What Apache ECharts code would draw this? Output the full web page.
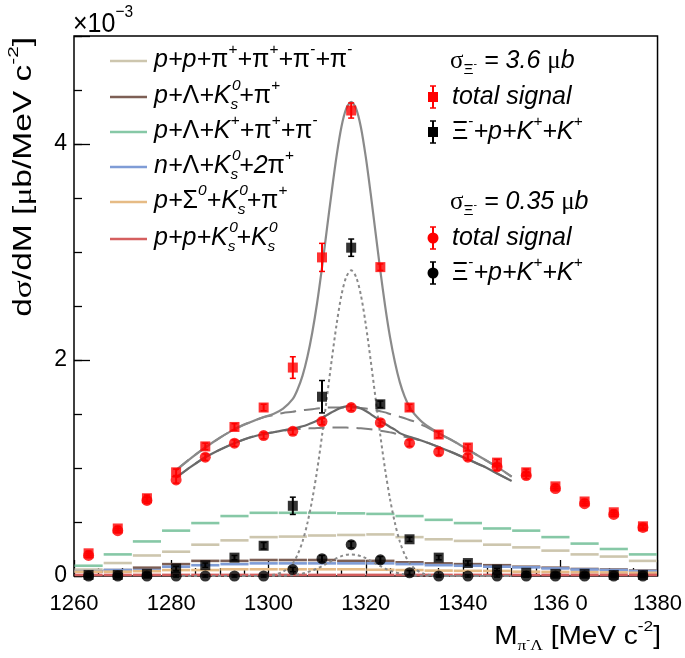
<!DOCTYPE html>
<html><head><meta charset="utf-8">
<script src="https://cdn.jsdelivr.net/npm/echarts@6/dist/echarts.min.js"></script>
<style>html,body{margin:0;padding:0;background:#fff}#c{width:685px;height:658px}</style>
</head><body><div id="c"></div>
<script>
// ---------------- data ----------------
const binCenter = [1263,1269,1275,1281,1287,1293,1299,1305,1311,1317,1323,1329,1335,1341,1347,1353,1359,1365,1371,1377];
const binLow    = [1260,1266,1272,1278,1284,1290,1296,1302,1308,1314,1320,1326,1332,1338,1344,1350,1356,1362,1368,1374];
const binHigh   = [1266,1272,1278,1284,1290,1296,1302,1308,1314,1320,1326,1332,1338,1344,1350,1356,1362,1368,1374,1380];

// total signal, sigma = 3.6 ub (red squares)
const redSq    = [0.21,0.44,0.72,0.96,1.20,1.38,1.56,1.93,2.95,4.31,2.86,1.56,1.31,1.19,1.05,0.96,0.83,0.69,0.59,0.46];
const redSqErr = [0.02,0.02,0.03,0.03,0.03,0.03,0.03,0.10,0.13,0.07,0.03,0.03,0.03,0.03,0.03,0.03,0.02,0.02,0.02,0.02];
// Xi- + p + K+ + K+, sigma = 3.6 ub (black squares)
const blkSq    = [0.01,0.01,0.02,0.07,0.10,0.17,0.28,0.65,1.66,3.04,1.59,0.34,0.17,0.12,0.06,0.03,0.02,0.02,0.01,0.01];
const blkSqErr = [0.01,0.01,0.01,0.02,0.02,0.02,0.03,0.08,0.15,0.08,0.03,0.02,0.02,0.02,0.01,0.01,0.01,0.01,0.01,0.01];
// total signal, sigma = 0.35 ub (red circles)
const redCi    = [0.19,0.42,0.70,0.89,1.10,1.23,1.30,1.34,1.43,1.56,1.42,1.23,1.15,1.10,1.01,0.93,0.81,0.67,0.57,0.45];
const redCiErr = [0.02,0.02,0.03,0.03,0.03,0.03,0.03,0.03,0.03,0.03,0.03,0.03,0.03,0.03,0.03,0.03,0.02,0.02,0.02,0.02];
// Xi- + p + K+ + K+, sigma = 0.35 ub (black circles)
const blkCi    = [0.00,0.00,0.00,0.00,0.00,0.00,0.00,0.06,0.16,0.29,0.15,0.03,0.00,0.00,0.00,0.00,0.00,0.00,0.00,0.00];
const blkCiErr = [0.01,0.01,0.01,0.01,0.01,0.01,0.01,0.02,0.03,0.03,0.03,0.02,0.01,0.01,0.01,0.01,0.01,0.01,0.01,0.01];

// background channels (histograms)
const hPPpipipipi = [0.06,0.12,0.19,0.225,0.29,0.33,0.36,0.365,0.375,0.38,0.385,0.36,0.34,0.325,0.29,0.265,0.235,0.20,0.18,0.14];
const hPLK0pi     = [0.04,0.055,0.077,0.11,0.14,0.14,0.148,0.148,0.148,0.14,0.14,0.127,0.117,0.11,0.10,0.086,0.077,0.065,0.06,0.05];
const hPLKpipi    = [0.095,0.20,0.32,0.42,0.49,0.555,0.585,0.585,0.585,0.58,0.575,0.555,0.52,0.49,0.44,0.42,0.36,0.30,0.25,0.20];
const hNLK02pi    = [0.045,0.055,0.055,0.086,0.10,0.11,0.117,0.117,0.117,0.117,0.117,0.11,0.10,0.095,0.086,0.08,0.07,0.06,0.055,0.046];
const hPSK0pi     = [0.04,0.04,0.045,0.055,0.055,0.062,0.062,0.062,0.062,0.062,0.058,0.055,0.05,0.048,0.047,0.04,0.038,0.035,0.033,0.03];
const hPPK0K0     = [0.01,0.01,0.01,0.01,0.01,0.01,0.01,0.01,0.01,0.01,0.01,0.01,0.01,0.01,0.01,0.01,0.01,0.01,0.01,0.01];

// fit curves
const curveX = [1281,1284,1287,1290,1293,1296,1299,1301,1303,1305,1306,1307,1308,1309,1310,1311,1312,1313,1314,1315,1316,1317,1318,1319,1320,1321,1322,1323,1324,1325,1326,1327,1328,1329,1330,1332,1335,1338,1341,1344,1347,1350];
const fitTot1 = [0.98,1.09,1.19,1.28,1.36,1.42,1.473,1.50,1.55,1.64,1.73,1.855,2.03,2.255,2.53,2.855,3.21,3.56,3.89,4.16,4.33,4.39,4.33,4.155,3.88,3.545,3.185,2.825,2.495,2.21,1.98,1.795,1.66,1.565,1.50,1.41,1.323,1.25,1.17,1.09,1.01,0.92];
const fitBg1  = [0.98,1.09,1.19,1.28,1.36,1.42,1.47,1.49,1.51,1.52,1.53,1.535,1.54,1.545,1.55,1.555,1.56,1.56,1.56,1.56,1.56,1.56,1.56,1.555,1.55,1.545,1.535,1.525,1.515,1.50,1.49,1.475,1.46,1.445,1.43,1.39,1.32,1.25,1.17,1.09,1.01,0.92];
const fitSig1 = [0,0,0,0,0,0,0.003,0.011,0.04,0.12,0.20,0.32,0.49,0.71,0.98,1.30,1.65,2.00,2.33,2.60,2.77,2.83,2.77,2.60,2.33,2.00,1.65,1.30,0.98,0.71,0.49,0.32,0.20,0.12,0.07,0.02,0.003,0,0,0,0,0];
const fitTot2 = [0.91,1.01,1.10,1.17,1.23,1.28,1.315,1.331,1.348,1.364,1.374,1.386,1.401,1.418,1.439,1.464,1.49,1.516,1.54,1.559,1.57,1.572,1.566,1.551,1.528,1.499,1.468,1.437,1.407,1.38,1.355,1.323,1.304,1.289,1.275,1.246,1.195,1.14,1.08,1.02,0.95,0.88];
const fitBg2  = [0.91,1.01,1.10,1.17,1.23,1.28,1.315,1.33,1.345,1.355,1.36,1.363,1.366,1.368,1.37,1.372,1.374,1.375,1.375,1.375,1.374,1.372,1.37,1.367,1.363,1.358,1.352,1.345,1.338,1.33,1.32,1.30,1.29,1.28,1.27,1.245,1.195,1.14,1.08,1.02,0.95,0.88];
const fitSig2 = [0,0,0,0,0,0,0,0.001,0.003,0.009,0.014,0.023,0.035,0.05,0.069,0.092,0.116,0.141,0.165,0.184,0.196,0.20,0.196,0.184,0.165,0.141,0.116,0.092,0.069,0.05,0.035,0.023,0.014,0.009,0.005,0.001,0,0,0,0,0,0];

const xTickValues = [1260,1280,1300,1320,1340,1360,1380];
const xTickLabels = ['1260','1280','1300','1320','1340','136 0','1380'];
const yTickValues = [0,2,4];
const yTickLabels = ['0','2','4'];

const legendLeft = ['p+p+π^{+}+π^{+}+π^{-}+π^{-}','p+Λ+K^{0}_{s}+π^{+}','p+Λ+K^{+}+π^{+}+π^{-}','n+Λ+K^{0}_{s}+2π^{+}','p+Σ^{0}+K^{0}_{s}+π^{+}','p+p+K^{0}_{s}+K^{0}_{s}'];
const sigmaLabels = ['3.6','0.35'];

// ---------------- styling ----------------
const FAM = '"Liberation Sans", Arial, Helvetica, sans-serif';
const GFAM = '"Liberation Serif", "DejaVu Serif", serif';
const SERIF_GREEK = 'σμ';
const histColors = ['#cdc6ae','#7d5f55','#86c8a6','#7f9cd6','#e6bb85','#d55f5f'];
const histData = [hPPpipipipi,hPLK0pi,hPLKpipi,hNLK02pi,hPSK0pi,hPPK0K0];

const mc = document.createElement('canvas').getContext('2d');
function fontOf(size,it,gr){ return (it?'italic ':'') + size.toFixed(2) + 'px ' + (gr?GFAM:FAM); }
function measure(t,size,it,gr){ mc.font = fontOf(size,it,gr); return mc.measureText(t).width; }
const isGreek = c => /[\u0370-\u03FF]/.test(c);
function P(t,sc,dy,it,extra){ return Object.assign({t,sc,dy,it,gr:false},extra||{}); }
// split a plain run into latin / greek pieces (greek upright like ROOT's Symbol font)
function runParts(s,sc,dy,it,extra){
  const out=[]; let cur='', curG=null;
  const push=()=>{ if(cur) out.push(Object.assign({t:cur,sc,dy,it:curG?false:it,gr:curG && SERIF_GREEK.includes(cur[0])},extra||{})); };
  for(const ch of s){
    const g=isGreek(ch);
    if(curG!==null && (g!==curG || g)){ push(); cur=''; }
    cur+=ch; curG=g;
  }
  push();
  return out;
}
function parseTex(s,it){
  const parts=[]; let i=0, buf='';
  const flush=()=>{ if(buf){ parts.push(...runParts(buf,1,0,it)); buf=''; } };
  while(i<s.length){
    const c=s[i];
    if((c==='^'||c==='_') && s[i+1]==='{'){
      flush();
      const j=s.indexOf('}',i); const t=s.slice(i+2,j); const k=j+1;
      if(c==='^' && s[k]==='_' && s[k+1]==='{'){
        const j2=s.indexOf('}',k); const t2=s.slice(k+2,j2);
        parts.push(...runParts(t,.62,-.42,it,{noAdv:true, dx:.06}));
        parts.push(...runParts(t2,.62,.34,it,{stackW:t}));
        i=j2+1; continue;
      }
      parts.push(...runParts(t,.62,c==='^'?-.42:.34,it));
      i=j+1; continue;
    }
    buf+=s[i]; i++;
  }
  flush(); return parts;
}
function layout(parts,fs){
  let x=0; const els=[];
  for(const p of parts){
    const size=fs*p.sc; const dx=(p.dx||0)*fs;
    els.push({x:x+dx,y:p.dy*fs,t:p.t,size,it:p.it,gr:p.gr});
    if(!p.noAdv){
      let w=measure(p.t,size,p.it,p.gr);
      if(p.stackW) w=Math.max(w, measure(p.stackW,size,p.it,p.gr)+dx);
      x+=w;
    }
  }
  return {els,width:x};
}
function textGroup(parts,fs,o){
  const L=layout(parts,fs);
  const off = o.align==='right' ? -L.width : 0;
  return {type:'group', x:o.x, y:o.y, rotation:o.rotation||0, scaleX:o.sx||1, scaleY:o.sy||1, silent:true,
    children:L.els.map(e=>({type:'text', x:e.x+off, y:e.y,
      style:{text:e.t, font:fontOf(e.size,e.it,e.gr), fill:'#000', verticalAlign:'middle', textVerticalAlign:'middle', align:'left'}}))};
}

// ---------------- series ----------------
const series=[];
histData.forEach((vals,h)=>{
  series.push({type:'custom', name:'h'+h, z:2+h*0.01, silent:true,
    data:binLow.map((lo,i)=>[lo,binHigh[i],vals[i]]),
    encode:{x:[0,1],y:2},
    renderItem:(params,api)=>{
      const a=api.coord([api.value(0),api.value(2)]), b=api.coord([api.value(1),api.value(2)]);
      return {type:'line', shape:{x1:a[0]+0.5,y1:a[1],x2:b[0]-0.5,y2:b[1]}, style:{stroke:histColors[h], lineWidth:2.6}};
    }});
});
function curve(ys,color,type,width,z){
  return {type:'line', data:curveX.map((x,i)=>[x,ys[i]]), showSymbol:false, smooth:0.3, silent:true, z,
    lineStyle:{color, width, type}};
}
series.push(curve(fitSig1,'#8a8a8a',[3,3],2,4));
series.push(curve(fitSig2,'#8a8a8a',[3,3],2,4));
series.push(curve(fitBg1,'#808080',[16,8],2,5));
series.push(curve(fitBg2,'#808080',[16,8],2,5));
series.push(curve(fitTot1,'#8a8a8a','solid',2.2,6));
series.push(curve(fitTot2,'#6a6a6a','solid',2.2,6));

function errBars(vals,errs,color,z){
  return {type:'custom', z, silent:true, data:binCenter.map((x,i)=>[x,vals[i],errs[i]]), encode:{x:0,y:1},
    renderItem:(params,api)=>{
      const x=api.value(0), y=api.value(1), e=api.value(2);
      const t=api.coord([x,y+e]), b=api.coord([x,y-e]);
      return {type:'group', children:[
        {type:'line', shape:{x1:t[0],y1:t[1],x2:b[0],y2:b[1]}, style:{stroke:color,lineWidth:2}},
        {type:'line', shape:{x1:t[0]-3,y1:t[1],x2:t[0]+3,y2:t[1]}, style:{stroke:color,lineWidth:1.5}},
        {type:'line', shape:{x1:b[0]-3,y1:b[1],x2:b[0]+3,y2:b[1]}, style:{stroke:color,lineWidth:1.5}}]};
    }};
}
function pts(vals,color,sym,size,z){
  return {type:'scatter', data:binCenter.map((x,i)=>[x,vals[i]]), symbol:sym, symbolSize:size, z, silent:true, clip:false,
    itemStyle:{color}};
}
series.push(errBars(redSq,redSqErr,'#ff0000',7), pts(redSq,'#ff0000','rect',10,8));
series.push(errBars(redCi,redCiErr,'#ff0000',7), pts(redCi,'#ff0000','circle',11,8));
series.push(errBars(blkSq,blkSqErr,'#000000',9), pts(blkSq,'#000000','rect',10,10));
series.push(errBars(blkCi,blkCiErr,'#000000',9), pts(blkCi,'#000000','circle',11,10));

// ---------------- graphics (titles, legend) ----------------
const g=[];
const FS=25;
// y title (stretched along its length like the original)
g.push(textGroup(parseTex('dσ/dM [μb/MeV c^{-2}]',false),FS,{x:24,y:37,rotation:Math.PI/2,align:'right',sx:1.34}));
// x title
g.push(textGroup([P('M',1,0,false),P('π',.62,.34,false,{gr:true}),P('-',.42,.12,false),P('Λ',.62,.34,false,{gr:true})].concat(parseTex(' [MeV c^{-2}]',false)),FS,{x:661,y:637,align:'right',sx:1.12}));
// exponent
g.push(textGroup(parseTex('×10^{−3}',false),25,{x:73,y:24,sy:1.1}));
// left legend
const rowY=[61,97,132,167,202,239];
legendLeft.forEach((s,i)=>{
  g.push({type:'line', silent:true, shape:{x1:110,y1:rowY[i],x2:147,y2:rowY[i]}, style:{stroke:histColors[i],lineWidth:2.6}});
  g.push(textGroup(parseTex(s,true),FS,{x:154,y:rowY[i]-1}));
});
// right legend
function sigmaParts(v){ return [P('σ',1,0,false,{gr:true}),P('Ξ',.62,.34,false),P('-',.42,.12,false),P(' = '+v+' ',1,0,true),P('μ',1,0,false,{gr:true}),P('b',1,0,true)]; }
function marker(y,color,sym){
  const els=[{type:'line',silent:true,shape:{x1:433,y1:y-11,x2:433,y2:y+11},style:{stroke:color,lineWidth:2}},
    {type:'line',silent:true,shape:{x1:430,y1:y-11,x2:436,y2:y-11},style:{stroke:color,lineWidth:1.5}},
    {type:'line',silent:true,shape:{x1:430,y1:y+11,x2:436,y2:y+11},style:{stroke:color,lineWidth:1.5}}];
  if(sym==='rect') els.push({type:'rect',silent:true,shape:{x:428,y:y-5,width:10,height:10},style:{fill:color}});
  else els.push({type:'circle',silent:true,shape:{cx:433,cy:y,r:5.5},style:{fill:color}});
  return els;
}
const xiParts=[P('Ξ',1,0,false),P('-',.62,-.42,false)].concat(parseTex('+p+K^{+}+K^{+}',true));
g.push(textGroup(sigmaParts(sigmaLabels[0]),FS,{x:450,y:61}));
g.push(...marker(97,'#ff0000','rect'));
g.push(textGroup(parseTex('total signal',true),FS,{x:452,y:97}));
g.push(...marker(132,'#000000','rect'));
g.push(textGroup(xiParts,FS,{x:452,y:132}));
g.push(textGroup(sigmaParts(sigmaLabels[1]),FS,{x:450,y:202}));
g.push(...marker(238,'#ff0000','circle'));
g.push(textGroup(parseTex('total signal',true),FS,{x:452,y:238}));
g.push(...marker(273,'#000000','circle'));
g.push(textGroup(xiParts,FS,{x:452,y:273}));

const axisTickStyle={color:'#000',width:1.3};
const option={
  animation:false,
  backgroundColor:'#fff',
  grid:{left:74,right:27,top:36,bottom:82,show:true,borderColor:'#000',borderWidth:1.5,backgroundColor:'transparent',containLabel:false},
  xAxis:{type:'value',min:1260,max:1380,interval:20,axisLine:{show:false},splitLine:{show:false},
    axisTick:{inside:true,length:16,lineStyle:axisTickStyle},
    minorTick:{show:true,splitNumber:4,length:8,lineStyle:axisTickStyle},
    axisLabel:{color:'#000',fontSize:22,fontFamily:FAM,margin:17,
      formatter:v=>{const k=xTickValues.indexOf(v);return k>=0?xTickLabels[k]:'';}}},
  yAxis:[
    {type:'value',min:0,max:5,interval:0.5,position:'left',axisLine:{show:false},splitLine:{show:false},
      axisTick:{inside:true,length:8,lineStyle:axisTickStyle},axisLabel:{show:false}},
    {type:'value',min:0,max:5,interval:2,position:'left',axisLine:{show:false},splitLine:{show:false},
      axisTick:{inside:true,length:16,lineStyle:axisTickStyle},
      axisLabel:{color:'#000',fontSize:23,fontFamily:FAM,margin:7,
        formatter:v=>{const k=yTickValues.indexOf(v);return k>=0?yTickLabels[k]:'';}}}
  ],
  series:series,
  graphic:g
};
const chart=echarts.init(document.getElementById('c'),null,{renderer:'canvas'});
chart.setOption(option);
</script></body></html>
